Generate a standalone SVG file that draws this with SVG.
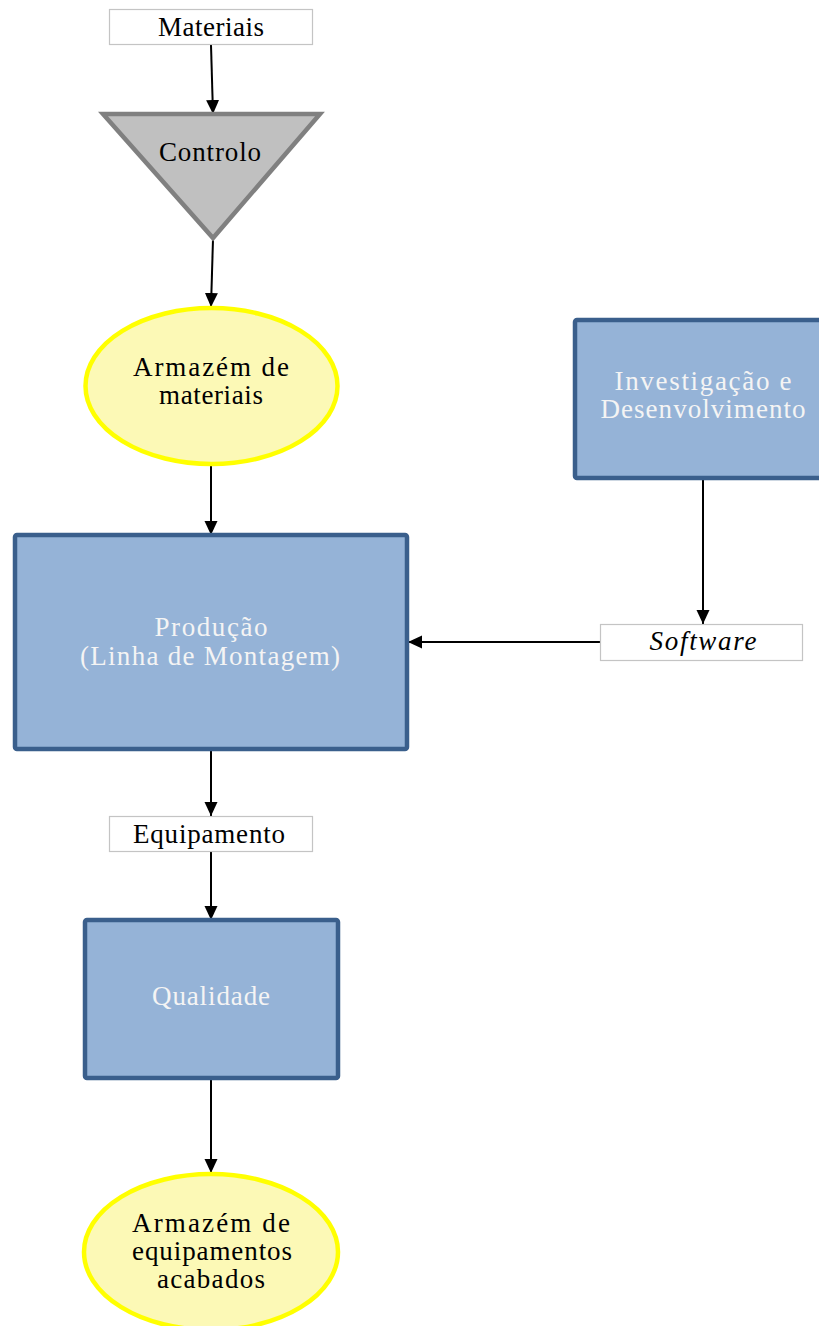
<svg xmlns="http://www.w3.org/2000/svg" width="819" height="1326" viewBox="0 0 819 1326">
<style>
text{font-family:"Liberation Serif","Times New Roman",serif;font-size:27px;text-anchor:middle;}
.dark{fill:#000;}
.light{fill:#f4f4f4;}
.lbl{fill:#fff;stroke:#c4c4c4;stroke-width:1.2;}
.blue{fill:#95b3d7;stroke:#3a5f8c;stroke-width:4.5;}
.oval{fill:#fcf9b6;stroke:#ffff00;stroke-width:4.5;}
.conn{fill:none;stroke:#000;stroke-width:2;}
</style>
<defs>
<marker id="arr" markerUnits="userSpaceOnUse" markerWidth="16" markerHeight="14" refX="14" refY="6.5" orient="auto">
<path d="M0,0 L14,6.5 L0,13 Z" fill="#000"/>
</marker>
</defs>
<rect width="819" height="1326" fill="#fff"/>
<g id="connectors">
<line class="conn" x1="211" y1="45" x2="213" y2="114" marker-end="url(#arr)"/>
<line class="conn" x1="213" y1="239" x2="211" y2="307" marker-end="url(#arr)"/>
<line class="conn" x1="211" y1="466" x2="211" y2="535" marker-end="url(#arr)"/>
<line class="conn" x1="703" y1="480" x2="703" y2="624" marker-end="url(#arr)"/>
<line class="conn" x1="600" y1="642" x2="408" y2="642" marker-end="url(#arr)"/>
<line class="conn" x1="211" y1="750" x2="211" y2="816" marker-end="url(#arr)"/>
<line class="conn" x1="211" y1="852" x2="211" y2="920" marker-end="url(#arr)"/>
<line class="conn" x1="211" y1="1080" x2="211" y2="1173" marker-end="url(#arr)"/>
</g>
<g id="materiais">
<rect class="lbl" x="109.5" y="9.5" width="203" height="35"/>
<text class="dark" x="211" y="36" font-size="24" textLength="106" lengthAdjust="spacing">Materiais</text>
</g>
<g id="controlo">
<polygon points="103,114 320,114 213,238" fill="#c0c0c0" stroke="#808080" stroke-width="4.5" stroke-linejoin="miter"/>
<text class="dark" x="210" y="161" textLength="102" lengthAdjust="spacing">Controlo</text>
</g>
<g id="armazem-materiais">
<ellipse class="oval" cx="211.5" cy="386" rx="126" ry="78"/>
<text class="dark" x="211" y="376" textLength="156" lengthAdjust="spacing">Armazém  de</text>
<text class="dark" x="211" y="404" textLength="104" lengthAdjust="spacing">materiais</text>
</g>
<g id="investigacao">
<rect class="blue" x="575" y="320" width="252" height="158" rx="2"/>
<text class="light" x="703" y="390" textLength="177" lengthAdjust="spacing">Investigação  e</text>
<text class="light" x="703" y="418" textLength="205" lengthAdjust="spacing">Desenvolvimento</text>
</g>
<g id="software">
<rect class="lbl" x="600.5" y="624.5" width="202" height="36"/>
<text class="dark" x="703" y="650" font-style="italic" textLength="107" lengthAdjust="spacing">Software</text>
</g>
<g id="producao">
<rect class="blue" x="15" y="535" width="392" height="214" rx="2"/>
<text class="light" x="211" y="636" textLength="113" lengthAdjust="spacing">Produção</text>
<text class="light" x="210" y="665" textLength="260" lengthAdjust="spacing">(Linha  de Montagem)</text>
</g>
<g id="equipamento">
<rect class="lbl" x="109.5" y="816.5" width="203" height="35"/>
<text class="dark" x="209" y="843" font-size="25" textLength="152" lengthAdjust="spacing">Equipamento</text>
</g>
<g id="qualidade">
<rect class="blue" x="85" y="920" width="253" height="158" rx="2"/>
<text class="light" x="211" y="1005" textLength="118" lengthAdjust="spacing">Qualidade</text>
</g>
<g id="armazem-equipamentos">
<ellipse class="oval" cx="211" cy="1252" rx="127" ry="78"/>
<text class="dark" x="211" y="1232" textLength="158" lengthAdjust="spacing">Armazém  de</text>
<text class="dark" x="212" y="1260" textLength="160" lengthAdjust="spacing">equipamentos</text>
<text class="dark" x="211" y="1288" textLength="108" lengthAdjust="spacing">acabados</text>
</g>
</svg>
